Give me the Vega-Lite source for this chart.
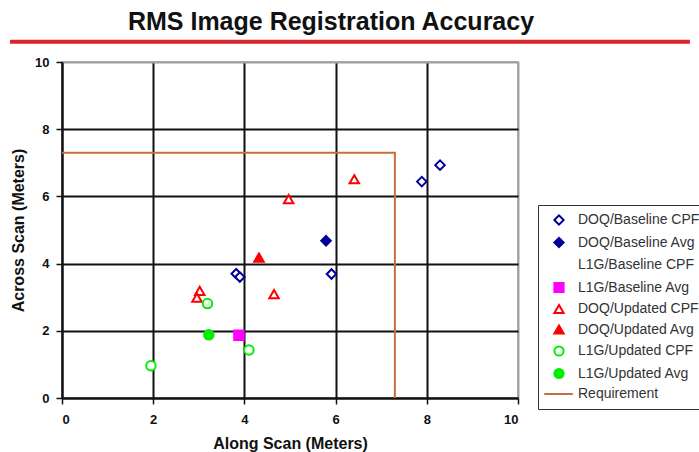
{
  "$schema": "https://vega.github.io/schema/vega-lite/v6.json",
  "width": 456,
  "height": 336,
  "autosize": {"type": "none"},
  "padding": {"left": 62, "top": 62, "right": 181, "bottom": 54},
  "background": "white",
  "title": {
    "text": "RMS Image Registration Accuracy",
    "font": "Liberation Sans",
    "fontSize": 25,
    "fontWeight": "bold",
    "color": "#111111",
    "anchor": "middle",
    "frame": "group",
    "dx": 41,
    "offset": 5
  },
  "config": {
    "view": {"stroke": "#9a9a9a", "strokeWidth": 1.5},
    "axis": {
      "labelFont": "Liberation Sans",
      "labelFontSize": 13,
      "labelFontWeight": "bold",
      "labelColor": "#111111",
      "titleFont": "Liberation Sans",
      "titleFontSize": 16,
      "titleFontWeight": "bold",
      "titleColor": "#111111",
      "domainColor": "#111111",
      "domainWidth": 2,
      "tickColor": "#111111",
      "tickWidth": 1.5,
      "tickSize": 6,
      "grid": true,
      "gridColor": "#111111",
      "gridWidth": 2,
      "gridOpacity": 1
    }
  },
  "datasets": {
    "measurements": [
      {"series": "DOQ/Baseline CPF", "along": 8.29, "across": 6.93},
      {"series": "DOQ/Baseline CPF", "along": 7.89, "across": 6.44},
      {"series": "DOQ/Baseline CPF", "along": 3.82, "across": 3.70},
      {"series": "DOQ/Baseline CPF", "along": 3.90, "across": 3.60},
      {"series": "DOQ/Baseline CPF", "along": 5.91, "across": 3.69},
      {"series": "DOQ/Baseline Avg", "along": 5.79, "across": 4.68},
      {"series": "L1G/Baseline Avg", "along": 3.88, "across": 1.87},
      {"series": "DOQ/Updated CPF", "along": 6.41, "across": 6.51},
      {"series": "DOQ/Updated CPF", "along": 4.97, "across": 5.92},
      {"series": "DOQ/Updated CPF", "along": 4.65, "across": 3.09},
      {"series": "DOQ/Updated CPF", "along": 3.02, "across": 3.19},
      {"series": "DOQ/Updated CPF", "along": 2.96, "across": 2.99},
      {"series": "DOQ/Updated Avg", "along": 4.32, "across": 4.18},
      {"series": "L1G/Updated CPF", "along": 3.19, "across": 2.81},
      {"series": "L1G/Updated CPF", "along": 4.10, "across": 1.43},
      {"series": "L1G/Updated CPF", "along": 1.95, "across": 0.96},
      {"series": "L1G/Updated Avg", "along": 3.22, "across": 1.88}
    ],
    "requirement": [
      {"series": "Requirement", "along": 0, "across": 7.3},
      {"series": "Requirement", "along": 7.3, "across": 7.3},
      {"series": "Requirement", "along": 7.3, "across": 0}
    ]
  },
  "layer": [
    {
      "data": {"name": "measurements"},
      "mark": {"type": "point", "size": 90, "strokeWidth": 2, "opacity": 1},
      "encoding": {
        "x": {
          "field": "along",
          "type": "quantitative",
          "scale": {"domain": [0, 10], "nice": false},
          "axis": {
            "title": "Along Scan (Meters)",
            "values": [0, 2, 4, 6, 8, 10],
            "labelPadding": 9,
            "titlePadding": 9,
            "gridColor": {"condition": {"test": "datum.value === 10", "value": "#a0a0a0"}, "value": "#111111"}
          }
        },
        "y": {
          "field": "across",
          "type": "quantitative",
          "scale": {"domain": [0, 10], "nice": false},
          "axis": {
            "title": "Across Scan (Meters)",
            "values": [0, 2, 4, 6, 8, 10],
            "labelPadding": 7,
            "titlePadding": 8,
            "gridColor": {"condition": {"test": "datum.value === 10", "value": "#a0a0a0"}, "value": "#111111"}
          }
        },
        "shape": {
          "field": "series",
          "type": "nominal",
          "scale": {
            "domain": ["DOQ/Baseline CPF", "DOQ/Baseline Avg", "L1G/Baseline CPF", "L1G/Baseline Avg", "DOQ/Updated CPF", "DOQ/Updated Avg", "L1G/Updated CPF", "L1G/Updated Avg", "Requirement"],
            "range": ["diamond", "diamond", "circle", "square", "triangle-up", "triangle-up", "circle", "circle", "M-3.2,0H3"]
          },
          "legend": {
            "title": null,
            "orient": "none",
            "legendX": 476,
            "legendY": 143,
            "padding": 8,
            "strokeColor": "#333333",
            "fillColor": "white",
            "labelFont": "Liberation Sans",
            "labelFontSize": 14,
            "labelColor": "#333333",
            "labelOffset": 12,
            "symbolOffset": 6,
            "symbolSize": 85,
            "symbolStrokeWidth": 2,
            "rowPadding": 4.5
          }
        },
        "fill": {
          "field": "series",
          "type": "nominal",
          "scale": {
            "domain": ["DOQ/Baseline CPF", "DOQ/Baseline Avg", "L1G/Baseline CPF", "L1G/Baseline Avg", "DOQ/Updated CPF", "DOQ/Updated Avg", "L1G/Updated CPF", "L1G/Updated Avg", "Requirement"],
            "range": ["white", "#000099", "transparent", "#ff00ff", "white", "#ff0000", "white", "#00ee00", "transparent"]
          },
          "legend": {"title": null}
        },
        "stroke": {
          "field": "series",
          "type": "nominal",
          "scale": {
            "domain": ["DOQ/Baseline CPF", "DOQ/Baseline Avg", "L1G/Baseline CPF", "L1G/Baseline Avg", "DOQ/Updated CPF", "DOQ/Updated Avg", "L1G/Updated CPF", "L1G/Updated Avg", "Requirement"],
            "range": ["#000099", "#000099", "transparent", "#ff00ff", "#ff0000", "#ff0000", "#00ee00", "#00ee00", "#c4703e"]
          },
          "legend": {"title": null}
        }
      }
    },
    {
      "data": {"name": "requirement"},
      "mark": {"type": "line", "strokeWidth": 2, "color": "#c4703e"},
      "encoding": {
        "x": {"field": "along", "type": "quantitative"},
        "y": {"field": "across", "type": "quantitative"},
        "order": {"value": null}
      }
    },
    {
      "description": "Red rule under the chart title",
      "data": {"values": [{}]},
      "mark": {"type": "rule", "color": "#d8262c", "strokeWidth": 4, "clip": false},
      "encoding": {
        "x": {"datum": -1.14, "type": "quantitative"},
        "x2": {"datum": 13.77},
        "y": {"datum": 10.6, "type": "quantitative"}
      }
    }
  ]
}
